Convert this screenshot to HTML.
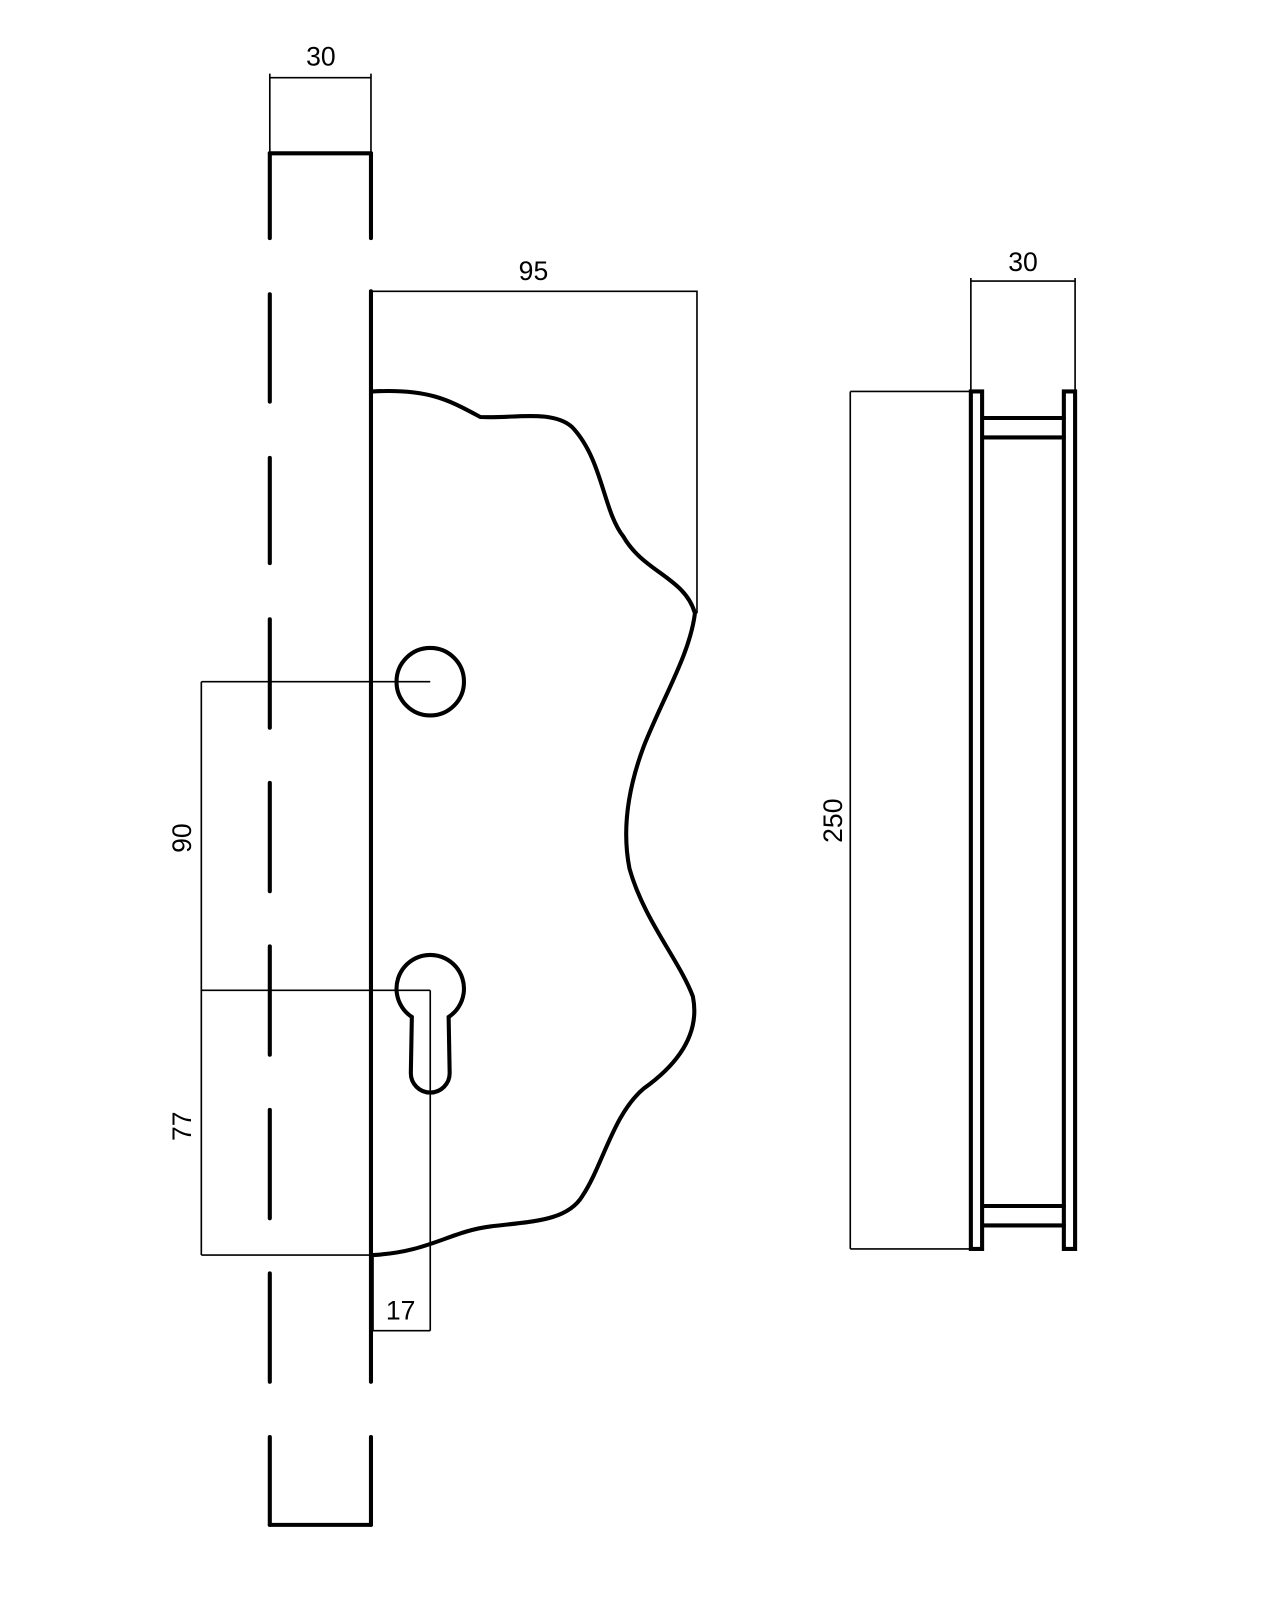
<!DOCTYPE html>
<html><head><meta charset="utf-8"><style>
html,body{margin:0;padding:0;background:#fff;}
svg{display:block;}
text{font-family:"Liberation Sans",sans-serif;font-size:26px;fill:#000;}
</style></head><body>
<svg width="1280" height="1600" viewBox="0 0 1252.5 1565.5" preserveAspectRatio="none" xmlns="http://www.w3.org/2000/svg">
<g fill="none" stroke="#000" stroke-linecap="round">
<!-- post -->
<path d="M264 150 H363" stroke-width="4"/>
<path d="M264 150 V233 M264 288 V393 M264 448 V551 M264 606 V712 M264 766 V872 M264 926 V1032 M264 1086 V1192 M264 1246 V1352 M264 1406 V1492" stroke-width="4"/>
<path d="M363 150 V233 M363 285 V1246 M363 1246 V1352 M363 1406 V1492" stroke-width="4"/>
<path d="M264 1492 H363" stroke-width="4"/>
<!-- wavy plate -->
<path d="M365 383 C420 380 440 392 470 408 C500 410 540 400 560 418 C590 450 590 500 610 525 C630 560 670 565 680 600 C675 640 650 680 630 730 C615 770 608 810 616 850 C630 900 665 940 678 975 C685 1010 665 1040 630 1065 C600 1090 590 1140 570 1170 C555 1195 520 1195 480 1200 C440 1205 420 1225 365 1228" stroke-width="4"/>
<circle cx="421" cy="667" r="33" stroke-width="4"/>
<path d="M403 995 A33 33 0 1 1 439 995 L440 1050 A18 18 0 0 1 402 1050 Z" stroke-width="4"/>
<!-- right panel -->
<rect x="950" y="383" width="11" height="839" stroke-width="4"/>
<rect x="1041" y="383" width="11" height="839" stroke-width="4"/>
<path d="M962 409 H1041 M962 428 H1041 M962 1180 H1041 M962 1199 H1041" stroke-width="4"/>
</g>
<g fill="none" stroke="#000" stroke-width="1.6">
<!-- 30 top -->
<path d="M264 72 V150 M363 72 V150 M264 76 H363"/>
<!-- 95 -->
<path d="M363 285 H682 V600"/>
<!-- 90 / 77 -->
<path d="M197 667 H421 M197 969 H421 M197 667 V1228 M197 1228 H363"/>
<!-- 17 -->
<path d="M421 969 V1302 M365 1228 V1302 M365 1302 H421"/>
<!-- 250 -->
<path d="M832 383 V1222 M832 383 H950 M832 1222 H950"/>
<!-- 30 right -->
<path d="M950 272 V383 M1052 272 V383 M950 275 H1052"/>
</g>
<text x="314" y="64" text-anchor="middle">30</text>
<text x="522" y="274" text-anchor="middle">95</text>
<text x="1001" y="265" text-anchor="middle">30</text>
<text x="392" y="1291" text-anchor="middle">17</text>
<text transform="translate(187 820) rotate(-90)" text-anchor="middle">90</text>
<text transform="translate(187 1102) rotate(-90)" text-anchor="middle">77</text>
<text transform="translate(824 803) rotate(-90)" text-anchor="middle">250</text>
</svg>
</body></html>
